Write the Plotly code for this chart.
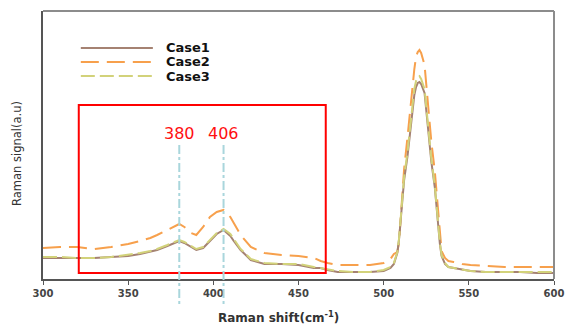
import plotly.graph_objects as go

# ---- data ----
shift = [300, 310, 320, 330, 340, 350, 357, 363, 367, 373,
         377, 380, 383, 387, 390, 394, 398, 402, 406, 410,
         412, 416, 422, 430, 440, 450, 459, 463, 467, 473,
         483, 492, 500, 504, 506, 508, 509, 510, 511, 512,
         514, 516, 518, 519, 520, 521, 522, 524, 526, 528,
         530, 531, 532, 533, 534, 536, 538, 541, 546, 551,
         560, 571, 580, 590, 600]

case1 = [21, 21, 21, 21, 22, 23, 25, 27, 29, 33,
         36, 38, 36, 32, 29, 31, 38, 45, 49, 43,
         38, 29, 19, 15, 15, 14, 11, 11, 9, 7,
         7, 7, 8, 11, 15, 26, 39, 58, 75, 99,
         123, 157, 184, 192, 196, 197, 195, 186, 151, 117,
         92, 74, 50, 35, 23, 15, 12, 11, 9, 8,
         7, 7, 7, 6, 6]

case2 = [31, 32, 32, 30, 32, 35, 38, 41, 44, 49,
         53, 55, 52, 46, 44, 52, 62, 67, 69, 62,
         56, 44, 32, 26, 24, 23, 21, 18, 16, 14,
         14, 14, 16, 20, 25, 27, 36, 58, 84, 110,
         142, 180, 210, 222, 227, 229, 226, 214, 176, 137,
         108, 88, 64, 40, 28, 21, 18, 17, 15, 14,
         13, 12, 12, 12, 12]

case3 = [22, 22, 21, 21, 22, 24, 26, 28, 30, 34,
         37, 39, 37, 33, 30, 32, 39, 46, 50, 45,
         40, 30, 20, 16, 15, 15, 12, 11, 10, 8,
         7, 7, 9, 12, 16, 27, 40, 60, 78, 102,
         127, 162, 190, 198, 202, 203, 200, 190, 155, 120,
         94, 76, 52, 36, 24, 16, 12, 11, 9, 8,
         7, 7, 7, 7, 7]

series_names = ["Case1", "Case2", "Case3"]
x_ticks = [300, 350, 400, 450, 500, 550, 600]
peak_marks = [380, 406]
peak_labels = ["380", "406"]
highlight_box = [321, 466, 6, 174]   # x0, x1, y0, y1
x_title = "Raman shift(cm<sup>-1</sup>)"
y_title = "Raman signal(a.u)"

# ---- styles ----
colors = ["#a58272", "#f7a04c", "#d2d27a"]
dashes = ["solid", "18px,8px", "14px,5px"]
FONT = "DejaVu Sans"

fig = go.Figure()
for name, ys, c, d in [(series_names[1], case2, colors[1], dashes[1]),
                       (series_names[0], case1, colors[0], dashes[0]),
                       (series_names[2], case3, colors[2], dashes[2])]:
    fig.add_trace(go.Scatter(x=shift, y=ys, name=name, mode="lines",
                             line=dict(color=c, width=2, dash=d),
                             showlegend=False))

shapes = []
annotations = []

# highlight box
shapes.append(dict(type="rect", xref="x", yref="y",
                   x0=highlight_box[0], x1=highlight_box[1],
                   y0=highlight_box[2], y1=highlight_box[3],
                   line=dict(color="#ff0000", width=2), layer="above"))

# peak marker lines and labels
for p, lab in zip(peak_marks, peak_labels):
    shapes.append(dict(type="line", xref="x", yref="paper",
                       x0=p, x1=p, y0=0.5, y1=-0.104,
                       line=dict(color="#a9d6dc", width=2, dash="dashdot"),
                       layer="above"))
    annotations.append(dict(x=p, y=146, xref="x", yref="y", text=lab,
                            showarrow=False, yanchor="middle",
                            font=dict(family=FONT, size=16,
                                      color="#ff1010")))

# top/right frame lines (lighter grey)
shapes.append(dict(type="line", xref="paper", yref="paper", x0=0, x1=1,
                   y0=1, y1=1, line=dict(color="#8c8c8c", width=2)))
shapes.append(dict(type="line", xref="paper", yref="paper", x0=1, x1=1,
                   y0=0, y1=1, line=dict(color="#8c8c8c", width=2)))

# manual legend
leg_y = [0.862, 0.810, 0.757]
for name, c, d, ly in zip(series_names, colors, dashes, leg_y):
    shapes.append(dict(type="line", xref="paper", yref="paper",
                       x0=0.074, x1=0.215, y0=ly, y1=ly,
                       line=dict(color=c, width=2, dash=d)))
    annotations.append(dict(x=0.237, y=ly, xref="paper", yref="paper",
                            text="<b>" + name + "</b>", showarrow=False,
                            xanchor="left", yanchor="middle",
                            font=dict(family=FONT, size=13,
                                      color="#111111")))

# axis titles
annotations.append(dict(x=0.46, y=-0.14, xref="paper", yref="paper",
                        text="<b>" + x_title + "</b>", showarrow=False,
                        xanchor="center", yanchor="middle",
                        font=dict(family=FONT, size=12,
                                  color="#333333")))
annotations.append(dict(x=-0.051, y=0.47, xref="paper", yref="paper",
                        text=y_title, showarrow=False, textangle=-90,
                        xanchor="center", yanchor="middle",
                        font=dict(family=FONT, size=11.5,
                                  color="#333333")))

fig.update_layout(
    width=565, height=325,
    margin=dict(l=43, r=11, t=11, b=46),
    paper_bgcolor="white", plot_bgcolor="white",
    hovermode=False,
    shapes=shapes, annotations=annotations,
    xaxis=dict(range=[300, 600], tickvals=x_ticks,
               ticktext=["<b>%d</b>" % t for t in x_ticks],
               showgrid=False, zeroline=False, automargin=False,
               ticklabeloverflow="allow",
               showline=True, linecolor="#555555", linewidth=2,
               ticks="outside", ticklen=4, tickcolor="#555555",
               tickfont=dict(family=FONT, size=10, color="#444444")),
    yaxis=dict(range=[0, 268], showticklabels=False, ticks="",
               showgrid=False, zeroline=False, automargin=False,
               showline=True, linecolor="#555555", linewidth=2),
)

# remove the default page margin so the figure fills the window exactly
fig.write_html("out.html",
               config={"displayModeBar": False, "staticPlot": True},
               post_script="document.body.style.margin='0';"
                           "document.body.style.overflow='hidden';")
